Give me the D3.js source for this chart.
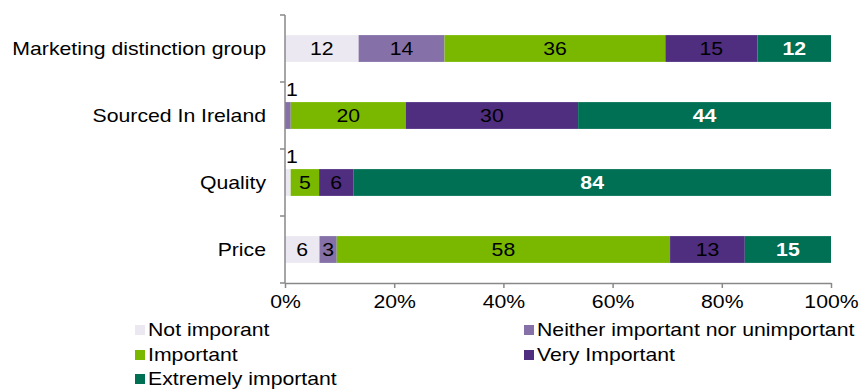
<!DOCTYPE html>
<html>
<head>
<meta charset="utf-8">
<script src="https://cdn.jsdelivr.net/npm/d3@7"></script>
<style>
body { margin: 0; background: #fff; }
svg text { font-family: "Liberation Sans", Arial, sans-serif; }
</style>
</head>
<body>
<div id="chart"></div>
<script>
// categories, top to bottom
var categories = ["Marketing distinction group", "Sourced In Ireland", "Quality", "Price"];
var seriesNames = ["Not imporant", "Neither important nor unimportant", "Important", "Very Important", "Extremely important"];
var seriesColors = ["#ECE8F1", "#8670A8", "#7AB800", "#4F2D7F", "#007055"];

// counts per category (bars are normalised to 100%)
var notImportant = [12, 0, 1, 6];
var neither      = [14, 1, 0, 3];
var important    = [36, 20, 5, 58];
var veryImp      = [15, 30, 6, 13];
var extremely    = [12, 44, 84, 15];

var xTicks = [0, 0.2, 0.4, 0.6, 0.8, 1];

var series = [notImportant, neither, important, veryImp, extremely];

var width = 860, height = 390;
var margin = {top: 15, right: 29, bottom: 107, left: 285};
var fs = 18, sx = 1.18; // text is a bit wider than normal

var svg = d3.select("#chart").append("svg")
    .attr("width", width)
    .attr("height", height);

function tr(x, y) { return "translate(" + x + "," + y + ") scale(" + sx + ",1)"; }

// build table rows for d3.stack
var rows = categories.map(function(c, i) {
  var r = {cat: c};
  var total = d3.sum(series, function(s) { return s[i]; });
  seriesNames.forEach(function(n, k) { r[n] = series[k][i] / total; r["raw_" + n] = series[k][i]; });
  return r;
});

var stacked = d3.stack().keys(seriesNames)(rows);

var x = d3.scaleLinear().domain([0, 1]).range([margin.left, width - margin.right]);
var y = d3.scaleBand().domain(categories)
    .range([margin.top, height - margin.bottom])
    .paddingInner(0.6).paddingOuter(0.3);

var g = svg.append("g");

// bars
var layer = g.selectAll(".layer")
    .data(stacked)
  .enter().append("g")
    .attr("class", "layer")
    .attr("fill", function(d, i) { return seriesColors[i]; });

layer.selectAll("rect")
    .data(function(d) { return d; })
  .enter().append("rect")
    .attr("x", function(d) { return x(d[0]); })
    .attr("y", function(d) { return y(d.data.cat); })
    .attr("width", function(d) { return Math.max(0, x(d[1]) - x(d[0])); })
    .attr("height", y.bandwidth());

// value labels
stacked.forEach(function(s, k) {
  s.forEach(function(d) {
    var v = d.data["raw_" + s.key];
    if (!v) return;
    var w = x(d[1]) - x(d[0]);
    var t = g.append("text")
        .attr("font-size", fs)
        .attr("fill", k == 4 ? "#fff" : "#000")
        .attr("font-weight", k == 4 ? "bold" : "normal")
        .text(v);
    if (w < 12) {
      // tiny segment: label sits above the bar
      t.attr("transform", tr(x(d[0]) + 1, y(d.data.cat) - 6));
    } else {
      t.attr("transform", tr((x(d[0]) + x(d[1])) / 2, y(d.data.cat) + y.bandwidth() / 2))
       .attr("dy", "0.36em")
       .attr("text-anchor", "middle");
    }
  });
});

// y axis
var plotBottom = height - margin.bottom;
var yAxisG = svg.append("g");
yAxisG.append("line")
    .attr("x1", margin.left).attr("x2", margin.left)
    .attr("y1", margin.top).attr("y2", plotBottom)
    .attr("stroke", "#888").attr("stroke-width", 1.5);
var step = (plotBottom - margin.top) / categories.length;
d3.range(categories.length + 1).forEach(function(i) {
  yAxisG.append("line")
    .attr("x1", margin.left - 5).attr("x2", margin.left)
    .attr("y1", margin.top + i * step).attr("y2", margin.top + i * step)
    .attr("stroke", "#888").attr("stroke-width", 1.5);
});
yAxisG.selectAll(".cat")
    .data(categories)
  .enter().append("text")
    .attr("transform", function(d) { return tr(margin.left - 19, y(d) + y.bandwidth() / 2); })
    .attr("dy", "0.36em")
    .attr("text-anchor", "end")
    .attr("font-size", fs)
    .attr("fill", "#000")
    .text(function(d) { return d; });

// x axis
var xAxis = d3.axisBottom(x).tickValues(xTicks).tickFormat(d3.format(".0%")).tickSize(5).tickSizeOuter(0);
var xg = svg.append("g")
    .attr("transform", "translate(0," + plotBottom + ")")
    .call(xAxis);
xg.select(".domain").attr("stroke", "#888").attr("stroke-width", 1.5);
xg.selectAll(".tick line").attr("stroke", "#888").attr("stroke-width", 1.5);
xg.selectAll(".tick text")
    .attr("font-size", fs)
    .attr("font-family", "Liberation Sans, Arial, sans-serif")
    .attr("fill", "#000")
    .attr("y", 12)
    .attr("transform", "scale(" + sx + ",1)");

// legend
var legendPos = [[135, 330], [524, 330], [135, 355], [524, 355], [135, 379]];
var legend = svg.selectAll(".legend")
    .data(seriesNames)
  .enter().append("g")
    .attr("class", "legend")
    .attr("transform", function(d, i) { return "translate(" + legendPos[i][0] + "," + legendPos[i][1] + ")"; });

legend.append("rect")
    .attr("x", 0).attr("y", -5)
    .attr("width", 10).attr("height", 10)
    .attr("fill", function(d, i) { return seriesColors[i]; });

legend.append("text")
    .attr("transform", tr(13, 0))
    .attr("dy", "0.36em")
    .attr("font-size", fs)
    .attr("fill", "#000")
    .text(function(d) { return d; });
</script>
</body>
</html>
